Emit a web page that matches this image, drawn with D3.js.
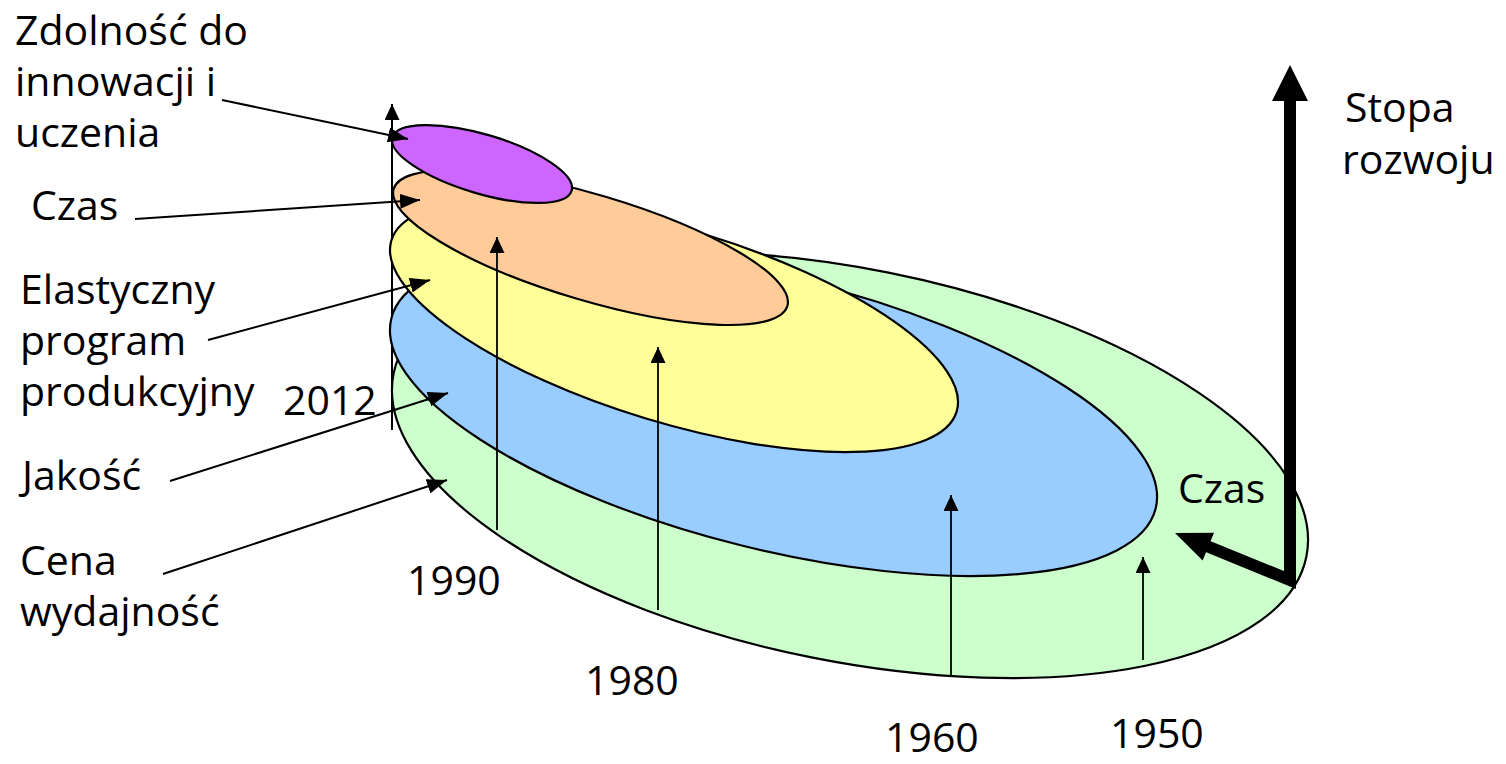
<!DOCTYPE html>
<html>
<head>
<meta charset="utf-8">
<script src="https://cdn.jsdelivr.net/npm/d3@7"></script>
<style>
  html, body { margin: 0; padding: 0; background: #fff; }
  svg { display: block; }
  text { font-family: "Open Sans", "DejaVu Sans", sans-serif; fill: #000; }
</style>
</head>
<body>
<svg id="chart"></svg>
<script>
// ---- data -------------------------------------------------------------
// Competitive priorities, from the oldest (bottom layer) to the newest (top).
const layerNames = [
  ["Cena", "wydajność"],
  ["Jakość"],
  ["Elastyczny", "program", "produkcyjny"],
  ["Czas"],
  ["Zdolność do", "innowacji i", "uczenia"]
];
const layerYears  = [1950, 1960, 1980, 1990, 2012];
const layerColors = ["#CCFFCC", "#99CCFF", "#FFFF99", "#FFCC99", "#CC66FF"];
const axisLabels  = ["Stopa", "rozwoju"];
const timeLabel   = "Czas";

// ---- layout (design space 1506 x 764) ----------------------------------
const W = 1506, H = 764;
const sx = d3.scaleLinear().domain([0, 1506]).range([0, W]);
const sy = d3.scaleLinear().domain([0, 764]).range([0, H]);
const sr = d3.scaleLinear().domain([0, 1506]).range([0, W]);

// tilted ellipses, one per layer (same order as layerNames)
const discCx   = [850, 773.5, 674, 590.5, 482];
const discCy   = [465, 413.5, 326, 247.5, 164];
const discRx   = [465.5, 393.8, 295.3, 205.4, 93.5];
const discRy   = [196.2, 135.8, 96.7, 53, 29.6];
const discTilt = [11.34, 13.97, 16.85, 16.56, 16.6];

// text blocks on the left: first baseline, x, and the leader arrow
const nameX     = [20, 22, 20, 31, 15];
const nameY     = [575, 490, 304, 220, 45];
const leaderFrom = [[163, 574], [170, 481], [208, 340], [135, 219], [222, 100]];
const leaderTo   = [[447, 480], [448, 393], [430, 280], [420, 200], [408, 139]];
const lineGap = 51;

// year markers: vertical arrows rising out of the base
const markerYears = [1990, 1980, 1960, 1950];
const markerX     = [497, 658, 951, 1143];
const markerFrom  = [530, 610, 675, 660];
const markerTo    = [237, 347, 495, 557];
const yearLabelX  = [407, 585, 885, 1110];
const yearLabelY  = [595, 695, 752, 748];

const svg = d3.select("#chart").attr("width", W).attr("height", H);
const fontSize = 41;

const defs = svg.append("defs");
function headMarker(id, len, half) {
  defs.append("marker")
    .attr("id", id)
    .attr("markerUnits", "userSpaceOnUse")
    .attr("viewBox", `0 ${-half} ${len} ${2 * half}`)
    .attr("refX", len).attr("refY", 0)
    .attr("markerWidth", len).attr("markerHeight", 2 * half)
    .attr("orient", "auto")
    .append("path")
    .attr("d", `M0,${-half}L${len},0L0,${half}Z`)
    .attr("fill", "#000");
}
headMarker("head-small", 16, 7.5);
headMarker("head-leader", 20, 7.5);

// vertical time axis at 2012 (behind the discs)
svg.append("line")
  .attr("x1", sx(392)).attr("x2", sx(392))
  .attr("y1", sy(430)).attr("y2", sy(104))
  .attr("stroke", "#000").attr("stroke-width", 2)
  .attr("marker-end", "url(#head-small)");

// stacked discs
const order = d3.range(layerYears.length);
svg.append("g").selectAll("ellipse")
  .data(order)
  .join("ellipse")
  .attr("cx", 0).attr("cy", 0)
  .attr("rx", i => sr(discRx[i]))
  .attr("ry", i => sr(discRy[i]))
  .attr("transform", i => `translate(${sx(discCx[i])},${sy(discCy[i])}) rotate(${discTilt[i]})`)
  .attr("fill", i => layerColors[i])
  .attr("stroke", "#000")
  .attr("stroke-width", 2.2);

// year marker arrows
svg.append("g").selectAll("line")
  .data(markerYears.map((y, i) => i))
  .join("line")
  .attr("x1", i => sx(markerX[i])).attr("x2", i => sx(markerX[i]))
  .attr("y1", i => sy(markerFrom[i])).attr("y2", i => sy(markerTo[i]))
  .attr("stroke", "#000").attr("stroke-width", 1.8)
  .attr("marker-end", "url(#head-small)");

// year labels
svg.append("g").selectAll("text")
  .data(markerYears.map((y, i) => i))
  .join("text")
  .attr("x", i => sx(yearLabelX[i]))
  .attr("y", i => sy(yearLabelY[i]))
  .attr("font-size", fontSize)
  .text(i => markerYears[i]);

svg.append("text")
  .attr("x", sx(283)).attr("y", sy(415))
  .attr("font-size", fontSize)
  .text(layerYears[layerYears.length - 1]);

// layer names with leader arrows
const names = svg.append("g");
order.forEach(i => {
  const t = names.append("text")
    .attr("x", sx(nameX[i])).attr("y", sy(nameY[i]))
    .attr("font-size", fontSize);
  layerNames[i].forEach((line, k) => {
    t.append("tspan")
      .attr("x", sx(nameX[i]))
      .attr("y", sy(nameY[i] + k * lineGap))
      .text(line);
  });
  names.append("line")
    .attr("x1", sx(leaderFrom[i][0])).attr("y1", sy(leaderFrom[i][1]))
    .attr("x2", sx(leaderTo[i][0])).attr("y2", sy(leaderTo[i][1]))
    .attr("stroke", "#000").attr("stroke-width", 2)
    .attr("marker-end", "url(#head-leader)");
});

// bold axes: growth rate (up) and time (back-left)
const corner = [1290, 580];
const upTip = [1290, 65];
const backTip = [1175, 533];
svg.append("path")
  .attr("d", d3.line()([
    [sx(upTip[0]), sy(upTip[1] + 30)],
    [sx(corner[0]), sy(corner[1])],
    [sx(backTip[0] + 28), sy(backTip[1] + 11.5)]
  ]))
  .attr("fill", "none").attr("stroke", "#000")
  .attr("stroke-width", 12).attr("stroke-linejoin", "miter");

function bigHead(tip, from, len, half) {
  const dx = tip[0] - from[0], dy = tip[1] - from[1];
  const d = Math.hypot(dx, dy), ux = dx / d, uy = dy / d;
  const bx = tip[0] - ux * len, by = tip[1] - uy * len;
  const pts = [
    [tip[0], tip[1]],
    [bx - uy * half, by + ux * half],
    [bx + uy * half, by - ux * half]
  ].map(p => [sx(p[0]), sy(p[1])]);
  svg.append("path").attr("d", d3.line()(pts) + "Z").attr("fill", "#000");
}
bigHead(upTip, corner, 36, 18);
bigHead(backTip, corner, 36, 15);

svg.append("text")
  .attr("x", sx(1178)).attr("y", sy(503))
  .attr("font-size", fontSize)
  .text(timeLabel);

const axisText = svg.append("text").attr("font-size", fontSize);
axisLabels.forEach((line, k) => {
  axisText.append("tspan")
    .attr("x", sx(k === 0 ? 1345 : 1342))
    .attr("y", sy(122 + k * 52))
    .text(line);
});
</script>
</body>
</html>
